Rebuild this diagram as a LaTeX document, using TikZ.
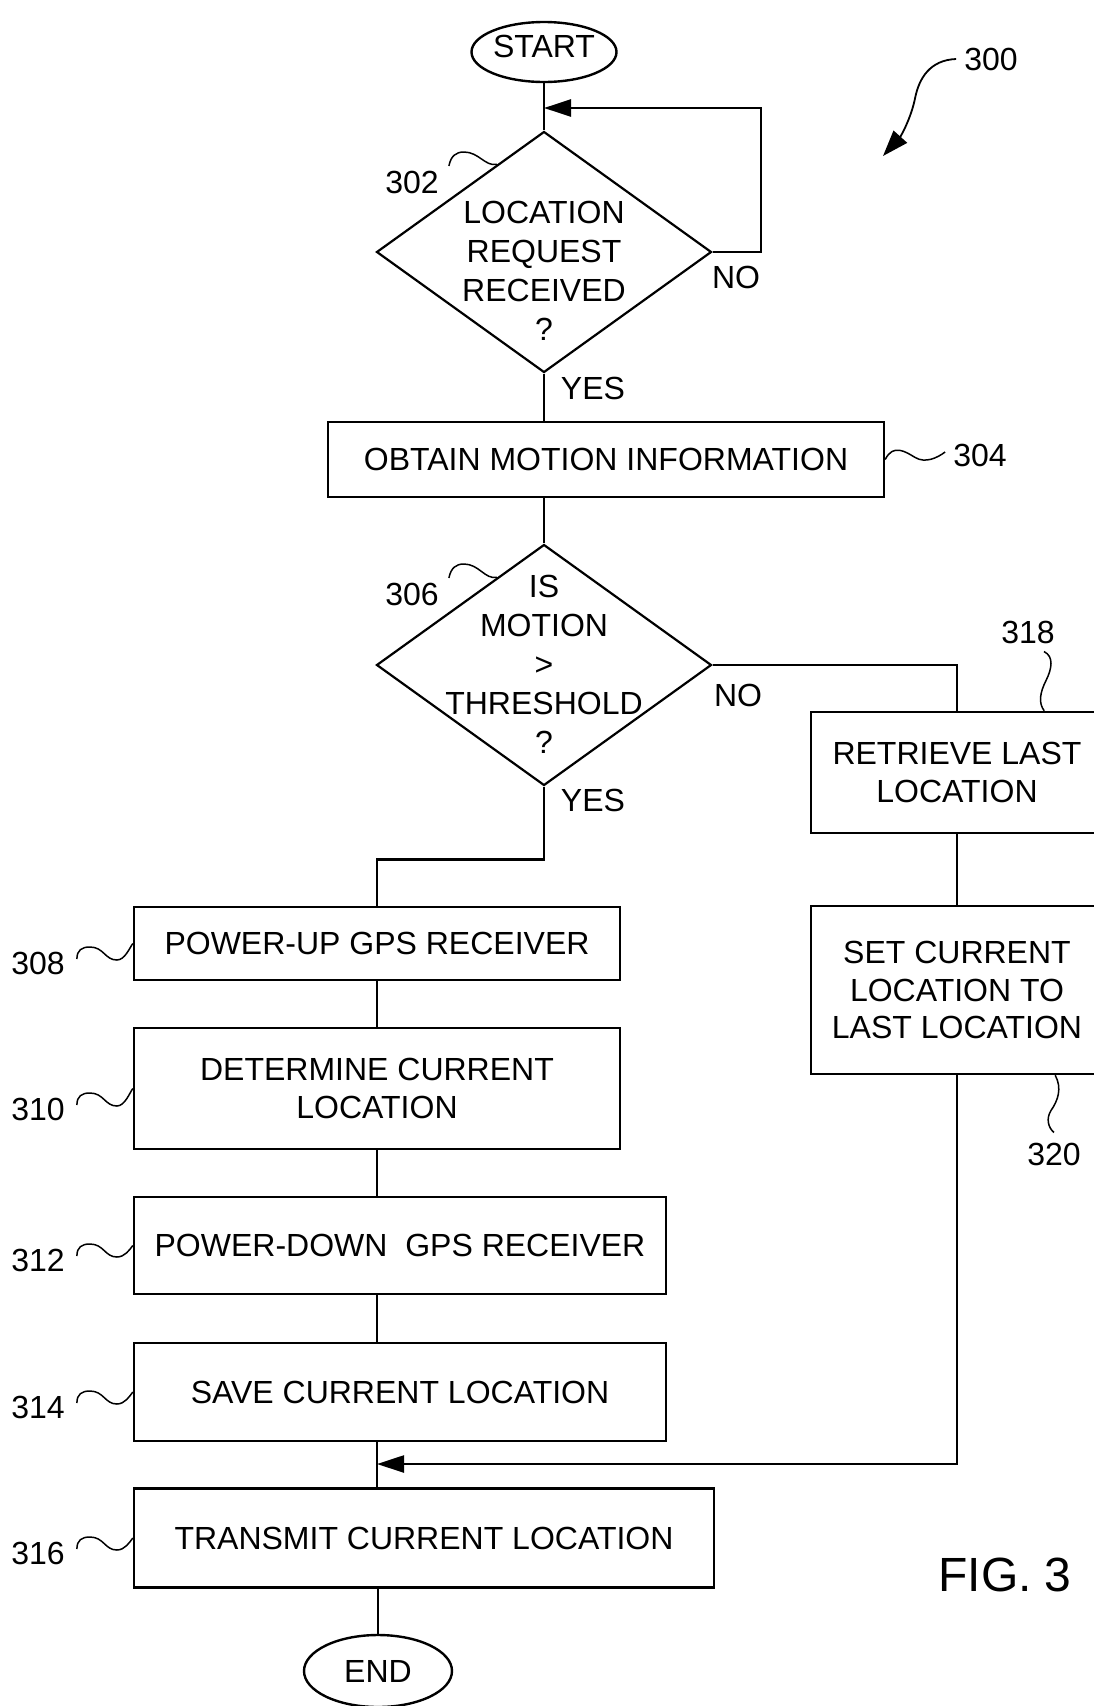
\documentclass[tikz,border=0pt]{standalone}
\usepackage{fontspec}
\setmainfont{Liberation Sans}
\usetikzlibrary{shapes.geometric,arrows.meta,calc}

\tikzset{
  box/.style={draw, line width=2.4pt, rectangle, inner sep=0pt, align=center, font=\fontsize{32}{37.5}\selectfont},
  term/.style={draw, line width=2.4pt, ellipse, inner sep=0pt, font=\fontsize{32}{36}\selectfont},
  decide/.style={draw, line width=2.2pt, diamond, inner sep=0pt, minimum width=335pt, minimum height=241pt},
  qtext/.style={align=center, inner sep=0pt, font=\fontsize{32}{39}\selectfont},
  lbl/.style={inner sep=0pt, font=\fontsize{32}{36}\selectfont},
  flow/.style={line width=2.4pt},
  lead/.style={line width=1.5pt},
  tip/.style={-{Triangle[length=27pt,width=17pt]}},
}

\newcommand\wiggle[2]{\draw[lead] ($(#1.east)+(12,-4)$) .. controls +(0,-9) and +(-8,0) .. ($(#1.east)+(25,-16)$) .. controls +(14,0) and +(-12,0) .. ($(#1.east)+(52,-3)$) .. controls +(8,0) and +(-3,4) .. (#2.west);}

\begin{document}
\begin{tikzpicture}[x=1pt, y=-1pt]
        \useasboundingbox (0,0) rectangle (1094,1706);
        \clip (0,0) rectangle (1094,1706);

        \node[term, minimum width=145pt, minimum height=60pt, text depth=12pt] (start) at (544,52) {START};
        \node[decide] (d302) at (544,252) {};
        \node[qtext] (q302) at (544,271) {LOCATION\\REQUEST\\RECEIVED\\?};
        \node[box, minimum width=556pt, minimum height=75pt] (b304) at (606,459.5) {OBTAIN MOTION INFORMATION};
        \node[decide] (d306) at (544,665) {};
        \node[qtext] (q306) at (544,664) {IS\\MOTION\\>\\THRESHOLD\\?};
        \node[box, minimum width=292pt, minimum height=121pt] (b318) at (957,772.5) {RETRIEVE LAST\\LOCATION};
        \node[box, minimum width=292pt, minimum height=168pt] (b320) at (957,990) {SET CURRENT\\LOCATION TO\\LAST LOCATION};
        \node[box, minimum width=486pt, minimum height=73pt] (b308) at (377,943.5) {POWER-UP GPS RECEIVER};
        \node[box, minimum width=486pt, minimum height=121pt] (b310) at (377,1088.5) {DETERMINE CURRENT\\LOCATION};
        \node[box, minimum width=532pt, minimum height=97pt] (b312) at (400,1245.5) {POWER-DOWN\ \ GPS RECEIVER};
        \node[box, minimum width=532pt, minimum height=98pt] (b314) at (400,1392) {SAVE CURRENT LOCATION};
        \node[box, minimum width=580pt, minimum height=99pt] (b316) at (424,1538) {TRANSMIT CURRENT LOCATION};
        \node[term, minimum width=148pt, minimum height=72pt] (end) at (378,1671) {END};

        \coordinate (loop) at (761,108);
        \coordinate (back) at (544,108);
        \coordinate (merge) at (377,1464);
        \coordinate (p300) at (883,156);

        \draw[flow] (start) -- (d302);
        \draw[flow, tip] (d302.east) -| (loop) -- (back);
        \draw[flow] (d302.south) -- (d302.south |- b304.north);
        \draw[flow] (d306.north |- b304.south) -- (d306.north);
        \draw[flow] (d306.east) -| (b318.north);
        \draw[flow] (b318) -- (b320);
        \draw[flow] (d306.south) -- ++(0,73) -| (b308.north);
        \draw[flow] (b308) -- (b310);
        \draw[flow] (b310.south) -- (b310.south |- b312.north);
        \draw[flow] (b310.south |- b312.south) -- (b310.south |- b314.north);
        \draw[flow] (b310.south |- b314.south) -- (b310.south |- b316.north);
        \draw[flow, tip] (b320.south) |- (merge);
        \draw[flow] (b316.south -| end.north) -- (end);

        \node[lbl] (no302) at (736,277) {NO};
        \node[lbl] (yes302) at (593,388) {YES};
        \node[lbl] (no306) at (738,695) {NO};
        \node[lbl] (yes306) at (593,800) {YES};

        \node[lbl] (r300) at (991,59) {300};
        \draw[lead, line width=1.8pt, -{Triangle[length=26pt,width=18pt]}] ($(r300.west)+(-8,0)$) .. controls +(-26,1) and +(4,-20) .. ($(r300.west)+(-49,39)$) .. controls +(-4,20) and +(18,-20) .. (p300);

        \node[lbl] (r302) at (412,182) {302};
        \draw[lead] ($(r302.east)+(10,-16)$) .. controls +(2,-10) and +(-8,0) .. ($(r302.east)+(25,-30)$) .. controls +(15,0) and +(-12,2) .. ($(d302.north)!0.28!(d302.west)$);
        \node[lbl] (r306) at (412,594) {306};
        \draw[lead] ($(r306.east)+(10,-16)$) .. controls +(2,-10) and +(-8,0) .. ($(r306.east)+(25,-30)$) .. controls +(15,0) and +(-12,2) .. ($(d306.north)!0.28!(d306.west)$);

        \node[lbl] (r304) at (980,455) {304};
        \draw[lead] (b304.east) .. controls +(8,-16) and +(-10,-6) .. ($(b304.east)+(30,-2)$) .. controls +(10,6) and +(-8,6) .. ($(r304.west)+(-8,-3)$);

        \node[lbl] (r318) at (1028,632) {318};
        \draw[lead] ($(r318.south)+(16,8)$) .. controls +(10,5) and +(6,-12) .. ($(r318.south)+(18,37)$) .. controls +(-6,12) and +(-6,-8) .. ($(b318.north east)+(-60,0)$);
        \node[lbl] (r320) at (1054,1154) {320};
        \draw[lead] ($(b320.south east)+(-49,0)$) .. controls +(7,13) and +(7,-10) .. ($(r320.north)+(-3,-32)$) .. controls +(-5,8) and +(-6,-5) .. ($(r320.north)+(0,-10)$);

        \node[lbl] (r308) at (38,963) {308};
        \wiggle{r308}{b308}
        \node[lbl] (r310) at (38,1109) {310};
        \wiggle{r310}{b310}
        \node[lbl] (r312) at (38,1260) {312};
        \wiggle{r312}{b312}
        \node[lbl] (r314) at (38,1407) {314};
        \wiggle{r314}{b314}
        \node[lbl] (r316) at (38,1553) {316};
        \wiggle{r316}{b316}

        \node[lbl, font=\fontsize{48}{52}\selectfont] (fig) at (1005,1575) {FIG. 3};
    \end{tikzpicture}
\end{document}
